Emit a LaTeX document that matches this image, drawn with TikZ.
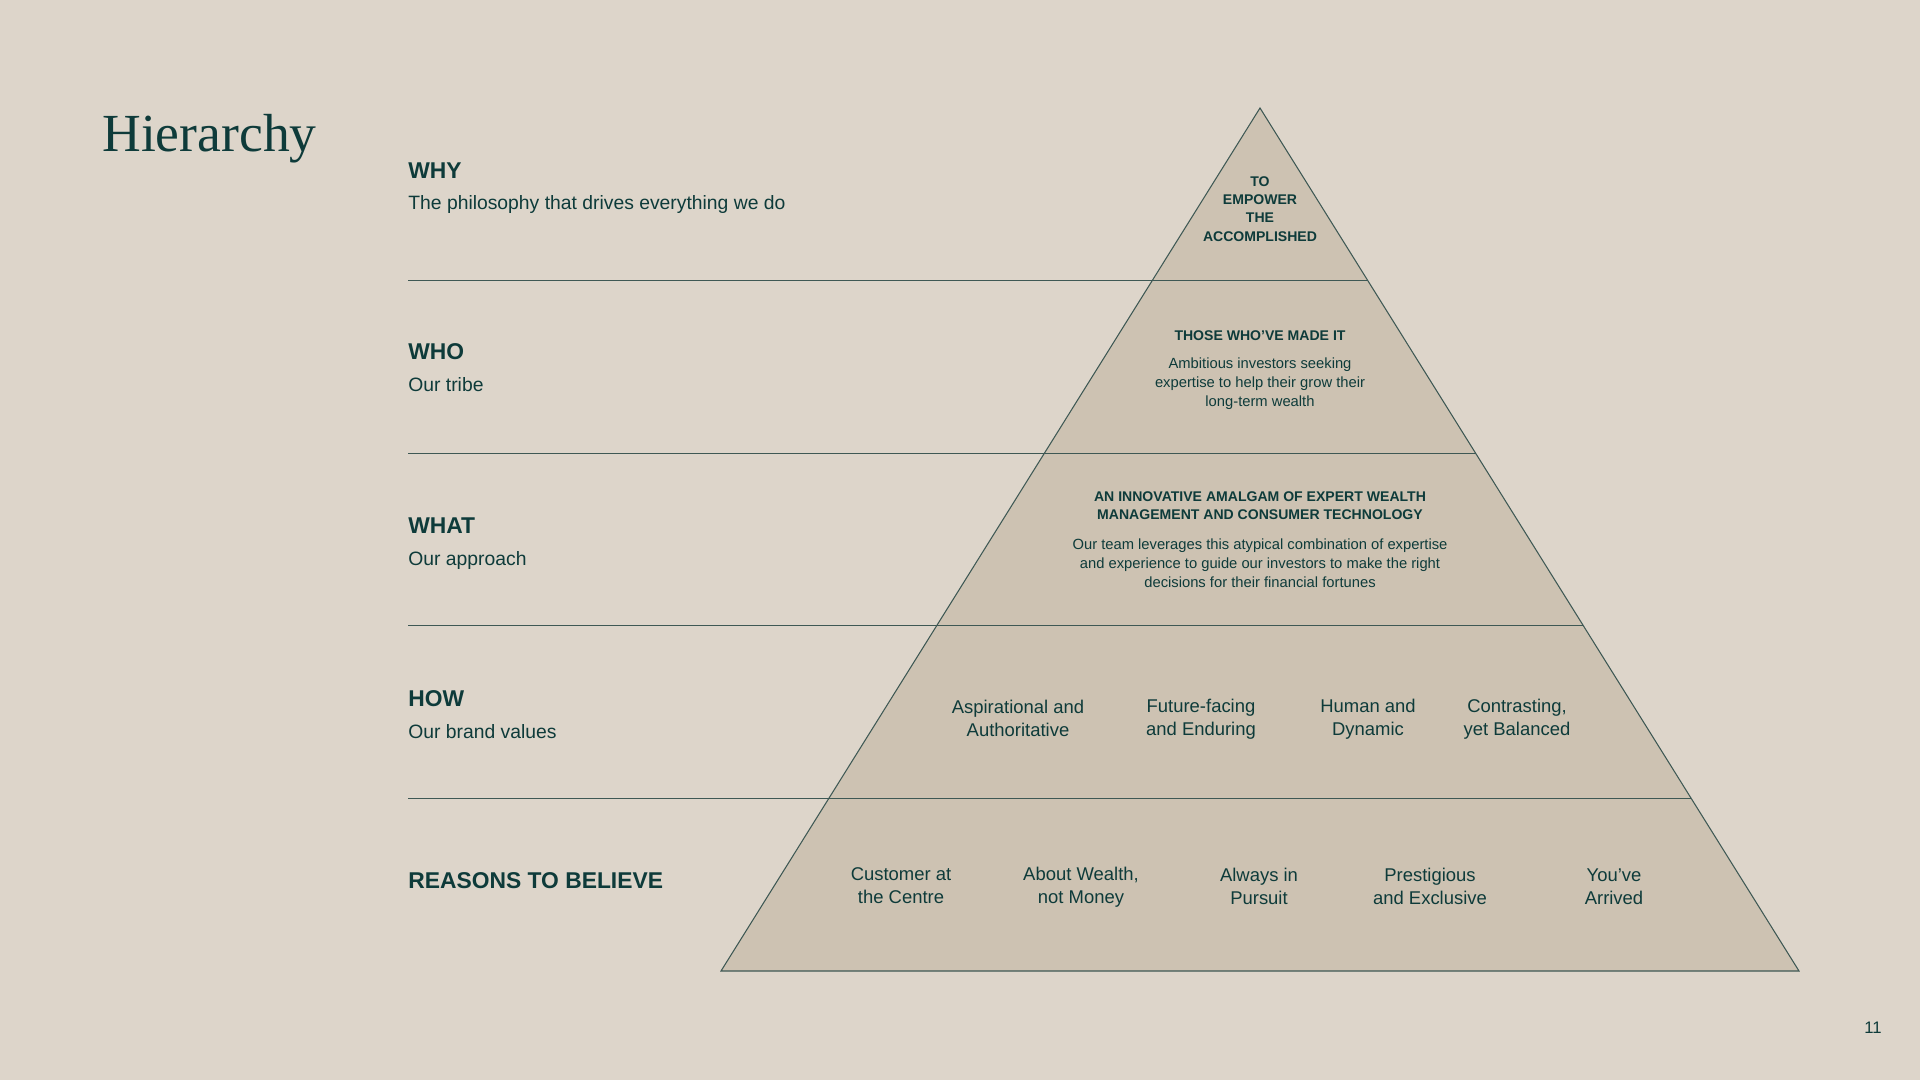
\documentclass[tikz,border=0pt]{standalone}
\usepackage{fontspec}
\usepackage{xcolor}
\usepackage{tikz}
\setmainfont{Liberation Sans}
\newfontfamily\serifhead{Liberation Serif}
\definecolor{hbg}{RGB}{221,213,202}
\definecolor{hfill}{RGB}{205,194,178}
\definecolor{hink}{RGB}{14,59,58}
\definecolor{hline}{RGB}{62,88,84}

\begin{document}
\begin{tikzpicture}[x=0.02cm, y=-0.02cm,
    head/.style={anchor=base west, inner sep=0pt, text=hink,
                 font=\bfseries\fontsize{13}{15}\selectfont},
    sub/.style={anchor=base west, inner sep=0pt, text=hink, font=\fontsize{11}{13}\selectfont},
    lead/.style={align=center, inner sep=0pt, text=hink, font=\bfseries\fontsize{8}{10.4}\selectfont},
    body/.style={align=center, inner sep=0pt, text=hink, font=\fontsize{8.4}{10.8}\selectfont},
    val/.style={align=center, inner sep=0pt, text=hink, font=\fontsize{10.5}{13}\selectfont},
    rule/.style={draw=hline, line width=0.6pt}]
    \fill[hbg] (0,0) rectangle (1920,1080);
    \useasboundingbox (0,0) rectangle (1920,1080);

    \node[anchor=base west, inner sep=0pt, text=hink, font=\serifhead\fontsize{30.5}{34}\selectfont]
      (title) at (102,151) {Hierarchy};

    \coordinate (apex) at (1260,108);
    \coordinate (bl) at (721,971);
    \coordinate (br) at (1799,971);
    \fill[hfill] (apex) -- (br) -- (bl) -- cycle;
    \draw[rule] (apex) -- (br) -- (bl) -- cycle;
    \foreach \k in {1,...,4}
      \draw[rule] (408,{108+172.6*\k}) -- ({1260+107.8*\k},{108+172.6*\k});

    \node[head] (why)  at (408,178) {WHY};
    \node[sub]  (whys) at (408,209) {The philosophy that drives everything we do};
    \node[head] (who)  at (408,359) {WHO};
    \node[sub]  (whos) at (408,391) {Our tribe};
    \node[head] (what) at (408,533) {WHAT};
    \node[sub]  (whats) at (408,565) {Our approach};
    \node[head] (how)  at (408,706) {HOW};
    \node[sub]  (hows) at (408,738) {Our brand values};
    \node[head] (rtb)  at (408,888) {REASONS TO BELIEVE};

    \node[lead] (purpose) at (1260,209) {TO\\EMPOWER\\THE\\ACCOMPLISHED};
    \node[lead] (tribe)   at (1260,336) {THOSE WHO’VE MADE IT};
    \node[body] (tribeb)  at (1260,384) {Ambitious investors seeking\\expertise to help their grow their\\long-term wealth};
    \node[lead] (appr)    at (1260,506) {AN INNOVATIVE AMALGAM OF EXPERT WEALTH\\MANAGEMENT AND CONSUMER TECHNOLOGY};
    \node[body] (apprb)   at (1260,563) {Our team leverages this atypical combination of expertise\\and experience to guide our investors to make the right\\decisions for their financial fortunes};

    \node[val] (v1) at (1018,718) {Aspirational and\\Authoritative};
    \node[val] (v2) at (1201,719) {Future-facing\\and Enduring};
    \node[val] (v3) at (1368,719) {Human and\\Dynamic};
    \node[val] (v4) at (1517,719) {Contrasting,\\yet Balanced};

    \node[val] (r1) at (901,886)  {Customer at\\the Centre};
    \node[val] (r2) at (1081,887) {About Wealth,\\not Money};
    \node[val] (r3) at (1259,886) {Always in\\Pursuit};
    \node[val] (r4) at (1430,886) {Prestigious\\and Exclusive};
    \node[val] (r5) at (1614,887) {You’ve\\Arrived};

    \node[text=hink, inner sep=0pt, font=\fontsize{9.5}{11}\selectfont] (page) at (1873,1028) {11};
  \end{tikzpicture}
\end{document}
